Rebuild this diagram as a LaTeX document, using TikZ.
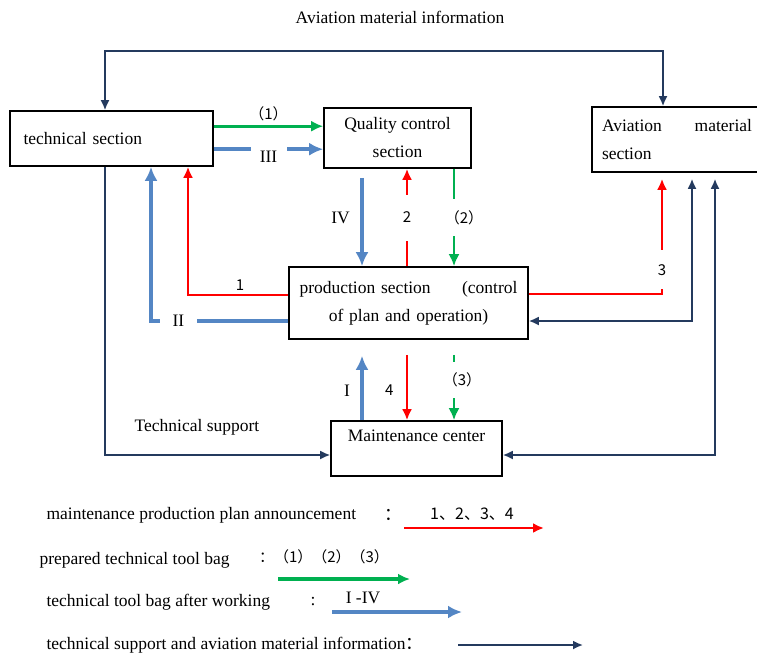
\documentclass[tikz,border=0pt]{standalone}
\usepackage{fontspec}
\setmainfont{Liberation Serif}
\newfontfamily\cjk{Noto Sans CJK SC}
\usetikzlibrary{calc,arrows.meta}

\definecolor{planRed}{RGB}{255,0,0}
\definecolor{bagGreen}{RGB}{0,176,80}
\definecolor{usedBlue}{RGB}{84,134,196}
\definecolor{infoNavy}{RGB}{36,58,94}

\tikzset{
	box/.style={draw, line width=1.6pt},
	planArrow/.style={-{Latex[length=11pt,width=10pt]}, draw=planRed, line width=2.4pt},
	bagArrow/.style={-{Latex[length=12pt,width=11pt]}, draw=bagGreen, line width=2.6pt},
	usedArrow/.style={-{Latex[length=14pt,width=13pt]}, draw=usedBlue, line width=3.6pt},
	infoArrow/.style={-{Latex[length=10pt,width=9pt]}, draw=infoNavy, line width=1.8pt},
	infoBoth/.style={{Latex[length=10pt,width=9pt]}-{Latex[length=10pt,width=9pt]}, draw=infoNavy, line width=1.8pt},
	cut/.style={fill=white, inner sep=1pt},
	num/.style={font=\cjk\fontsize{15}{17}\selectfont},
}

\begin{document}
\begin{tikzpicture}[x=1pt, y=-1pt, every node/.style={font=\fontsize{17.5}{28}\selectfont}]
	\useasboundingbox (0,0) rectangle (757,654);

	\node[box, minimum width=203, minimum height=55, text width=176, align=left] (techSec) at (111.5,138.5) {technical section};
	\node[box, minimum width=147, minimum height=60, align=center] (qualSec) at (397.5,138) {Quality control\\section};
	\node[box, minimum width=170, minimum height=65, text width=150, align=left] (avMat) at (677,139.5) {Aviation\hfill material\\section};
	\node[box, minimum width=239, minimum height=72, text width=218, align=center] (prodSec) at (408.5,303) {production section\hfill(control\\of plan and operation)};
	\node[box, minimum width=171, minimum height=55] (maintCtr) at (416.5,448.5) {};
	\node (maintTxt) at (416.5,436) {Maintenance center};

	\node (avInfo) at (400,17) {Aviation material information};
	\node (techSup) at (197,427) {Technical support};

	\coordinate (topL) at (105,51);
	\coordinate (topR) at (663,51);
	\coordinate (supCorner) at (105,455);
	\coordinate (r1) at (188,295);
	\coordinate (b2) at (151,321);
	\coordinate (c4) at (362,0);
	\coordinate (c2) at (407,0);
	\coordinate (cg) at (454,0);
	\coordinate (r3) at (662,294);
	\coordinate (n1) at (692,321);
	\coordinate (n2) at (715,455);

	\draw[infoBoth] (techSec.north -| topL) -- (topL) -- (topR) -- (avMat.north -| topR);
	\draw[infoArrow] (techSec.south -| supCorner) -- (supCorner) -- (maintCtr.west |- supCorner);

	\draw[bagArrow] ($(techSec.north east)+(0,16)$) coordinate (g1) -- node[num, above=1pt]{（1）} (qualSec.west |- g1);
	\draw[usedArrow] ($(techSec.north east)+(0,39)$) coordinate (b3) -- node[cut, yshift=-8pt, minimum height=26pt, minimum width=36pt]{III} (qualSec.west |- b3);

	\draw[planArrow] (prodSec.west |- r1) -- node[num, pos=0.48, above]{1} (r1) -- (techSec.south -| r1);
	\draw[usedArrow] (prodSec.west |- b2) -- node[cut, pos=0.8, minimum width=37pt]{II} (b2) -- (techSec.south -| b2);

	\draw[usedArrow, shorten <=9pt] (qualSec.south -| c4) -- node[left=7pt]{IV} (prodSec.north -| c4);
	\draw[planArrow] (prodSec.north -| c2) -- node[cut, num, minimum height=46pt]{2} (qualSec.south -| c2);
	\draw[bagArrow] (qualSec.south -| cg) -- node[cut, num, minimum height=37pt, xshift=10pt]{（2）} (prodSec.north -| cg);

	\draw[usedArrow, shorten >=16pt] (maintCtr.north -| c4) -- node[pos=0.37, left=7pt]{I} (prodSec.south -| c4);
	\draw[planArrow, shorten <=15pt] (prodSec.south -| c2) -- node[num, pos=0.63, left=9pt]{4} (maintCtr.north -| c2);
	\draw[bagArrow, shorten <=15pt] (prodSec.south -| cg) -- node[cut, num, minimum height=36pt, xshift=8pt]{（3）} (maintCtr.north -| cg);

	\draw[planArrow, shorten >=6pt] (prodSec.east |- r3) -- (r3) -- node[cut, num, pos=0.2, minimum height=39pt]{3} (avMat.south -| r3);
	\draw[infoBoth, shorten >=6pt] (prodSec.east |- n1) -- (n1) -- (avMat.south -| n1);
	\draw[infoBoth, shorten >=6pt] (maintCtr.east |- n2) -- (n2) -- (avMat.south -| n2);

	\node[anchor=west] (legPlan) at (43,515) {maintenance production plan announcement};
	\node (legPlanC) at (393,515) {{\cjk ：}};
	\node[num, font=\cjk\fontsize{16}{18}\selectfont] (legPlanN) at (472,514) {1、2、3、4};
	\node[anchor=west] (legBag) at (36,560) {prepared technical tool bag};
	\node[num, font=\cjk\fontsize{15}{18}\selectfont] (legBagN) at (324,557) {：（1）（2）（3）};
	\node[anchor=west] (legUsed) at (43,602) {technical tool bag after working};
	\node (legUsedC) at (313,602) {:};
	\node (legUsedN) at (363,598) {I -IV};
	\node[anchor=west] (legInfo) at (43,645) {technical support and aviation material information{\cjk ：}};

	\coordinate (lgRa) at (404,528);
	\coordinate (lgRb) at (544,528);
	\coordinate (lgGa) at (278,579);
	\coordinate (lgGb) at (410,579);
	\coordinate (lgBa) at (332,612);
	\coordinate (lgBb) at (462,612);
	\coordinate (lgNa) at (458,645);
	\coordinate (lgNb) at (583,645);
	\draw[planArrow] (lgRa) -- (lgRb);
	\draw[bagArrow, line width=3.4pt] (lgGa) -- (lgGb);
	\draw[usedArrow] (lgBa) -- (lgBb);
	\draw[infoArrow] (lgNa) -- (lgNb);

\end{tikzpicture}
\end{document}
